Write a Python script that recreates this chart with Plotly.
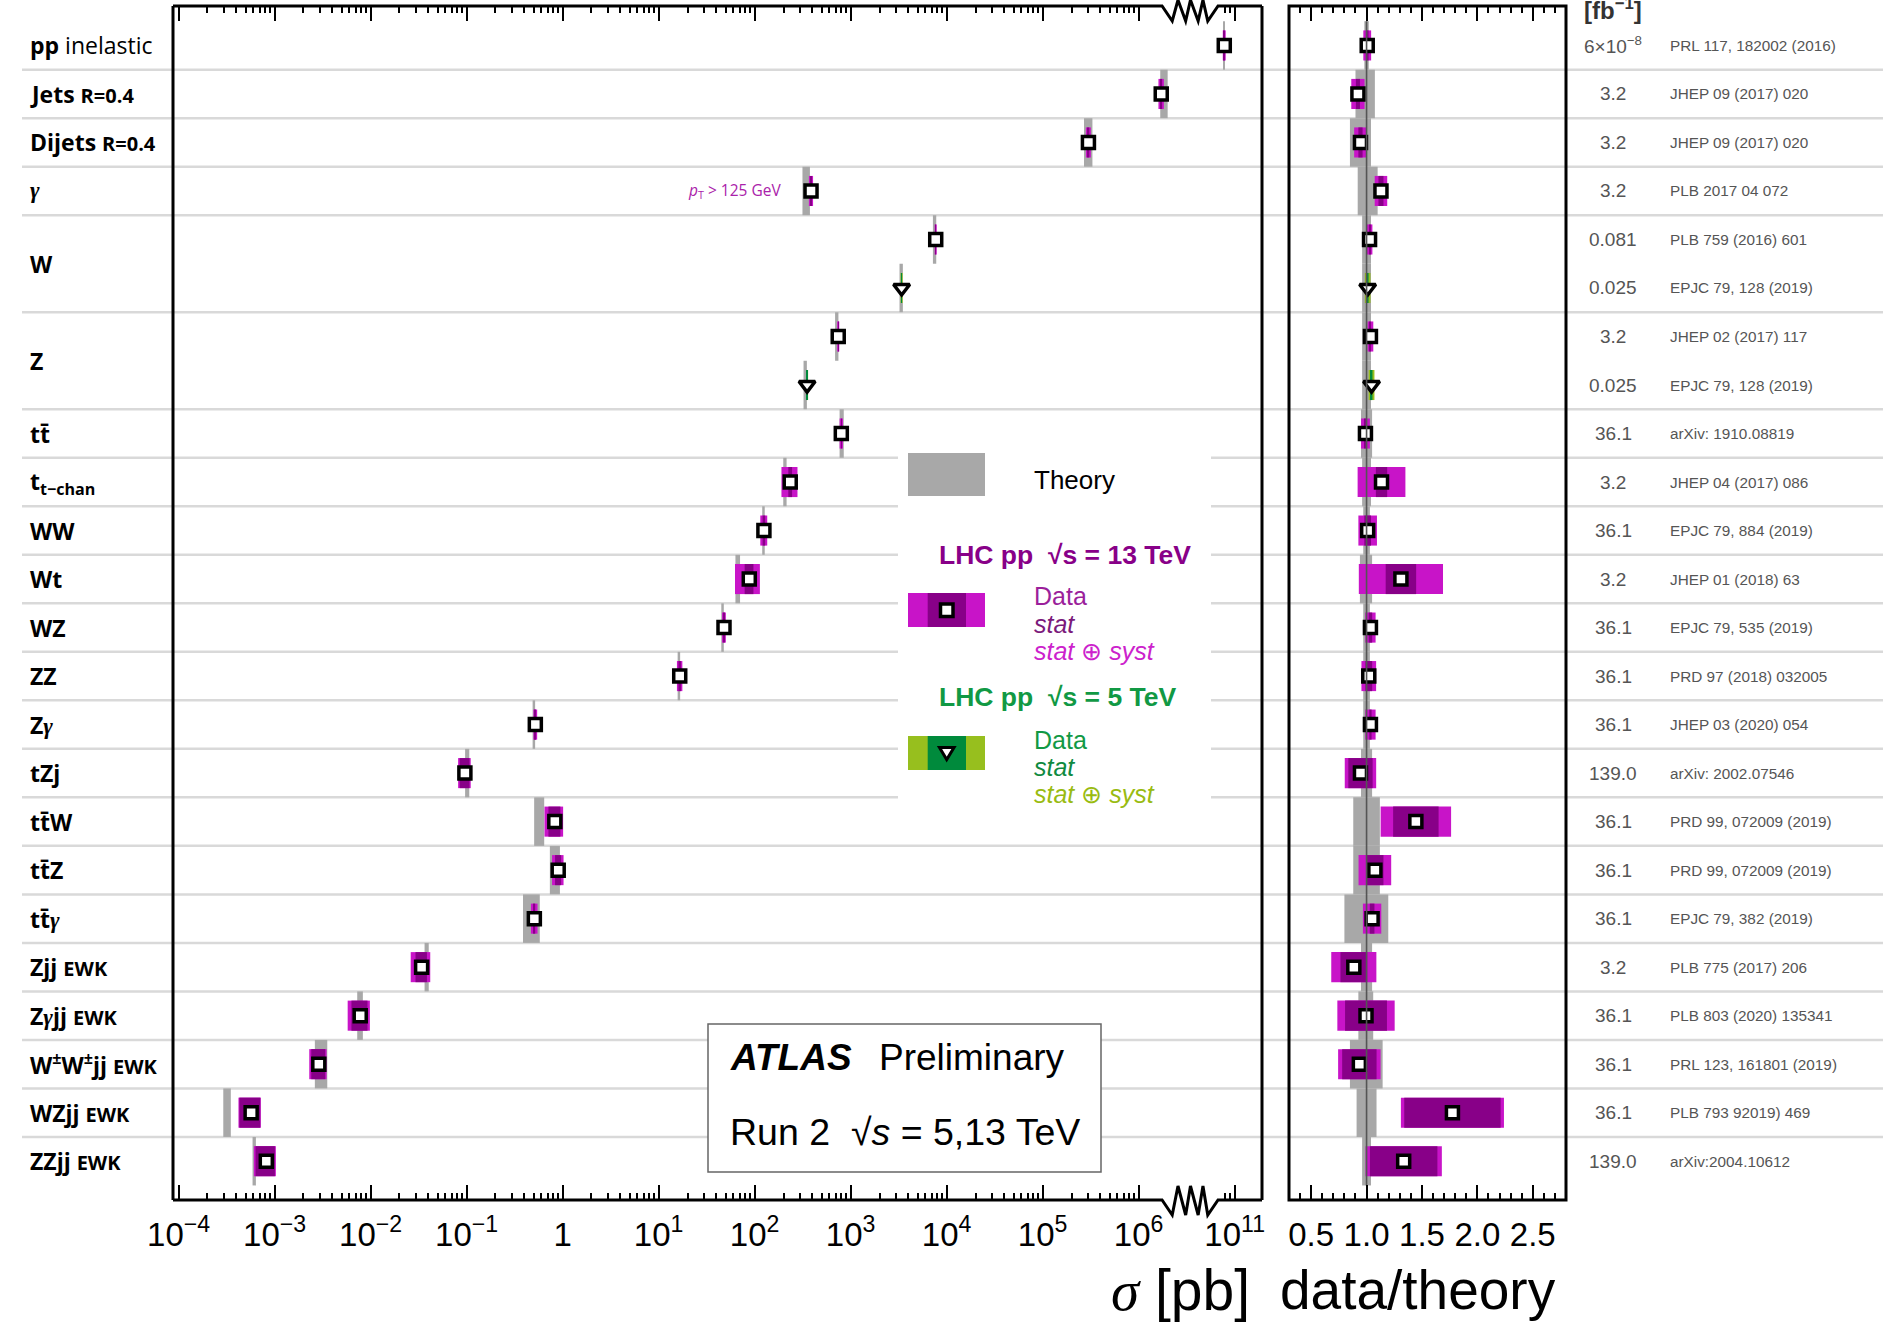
import numpy as np
import plotly.graph_objects as go

W_PX, H_PX = 1883, 1325

# ---------------------------------------------------------------- data
processes = ["pp", "Jets", "Dijets", "γ", "W", "Z", "tt̄", "t<sub>t−chan</sub>",
             "WW", "Wt", "WZ", "ZZ", "Zγ", "tZj", "tt̄W", "tt̄Z", "tt̄γ",
             "Zjj", "Zγjj", "W<sup>±</sup>W<sup>±</sup>jj", "WZjj", "ZZjj"]
qualifiers = ["inelastic", "R=0.4", "R=0.4", "", "", "", "", "", "", "", "", "", "",
              "", "", "", "", "EWK", "EWK", "EWK", "EWK", "EWK"]

# one entry per measurement (top to bottom)
meas_process = [0, 1, 2, 3, 4, 4, 5, 5, 6, 7, 8, 9, 10, 11, 12, 13, 14, 15, 16,
                17, 18, 19, 20, 21]
sqrt_s_tev = [13, 13, 13, 13, 13, 5, 13, 5, 13, 13, 13, 13, 13, 13, 13, 13, 13, 13,
              13, 13, 13, 13, 13, 13]
sigma_pb = [7.8e10, 1.72e6, 3.0e5, 387, 7.7e3, 3.4e3, 743, 352, 800, 235, 125, 88,
            48, 16.6, 0.52, 0.096, 0.83, 0.90, 0.508, 0.034, 0.0078, 0.00289,
            0.00057, 0.00082]
data_over_theory = [1.006, 0.922, 0.945, 1.13, 1.027, 1.01, 1.035, 1.045, 0.99, 1.135,
                    1.01, 1.31, 1.035, 1.02, 1.035, 0.945, 1.445, 1.075, 1.05, 0.885,
                    0.995, 0.935, 1.775, 1.335]
stat_rel = [0.012, 0.02, 0.02, 0.02, 0.004, 0.008, 0.004, 0.008, 0.005, 0.045, 0.03,
            0.105, 0.015, 0.03, 0.01, 0.116, 0.142, 0.072, 0.02, 0.136, 0.19, 0.166,
            0.245, 0.228]
total_rel = [0.035, 0.065, 0.06, 0.05, 0.025, 0.025, 0.025, 0.025, 0.04, 0.19, 0.083,
             0.29, 0.045, 0.065, 0.045, 0.15, 0.22, 0.137, 0.079, 0.23, 0.26, 0.205,
             0.262, 0.258]
theory_lo = [0.02, 0.10, 0.15, 0.08, 0.04, 0.04, 0.04, 0.04, 0.05, 0.04, 0.03, 0.06,
             0.03, 0.03, 0.03, 0.05, 0.12, 0.12, 0.20, 0.05, 0.074, 0.15, 0.09, 0.04]
theory_hi = [0.02, 0.075, 0.04, 0.10, 0.04, 0.04, 0.04, 0.04, 0.05, 0.04, 0.03, 0.05,
             0.03, 0.03, 0.03, 0.05, 0.12, 0.12, 0.196, 0.05, 0.06, 0.145, 0.09, 0.04]
lumi_fb = ["6×10<sup>−8</sup>", "3.2", "3.2", "3.2", "0.081", "0.025", "3.2", "0.025",
           "36.1", "3.2", "36.1", "3.2", "36.1", "36.1", "36.1", "139.0", "36.1",
           "36.1", "36.1", "3.2", "36.1", "36.1", "36.1", "139.0"]
references = ["PRL 117, 182002 (2016)", "JHEP 09 (2017) 020", "JHEP 09 (2017) 020",
              "PLB 2017 04 072", "PLB 759 (2016) 601", "EPJC 79, 128 (2019)",
              "JHEP 02 (2017) 117", "EPJC 79, 128 (2019)", "arXiv: 1910.08819",
              "JHEP 04 (2017) 086", "EPJC 79, 884 (2019)", "JHEP 01 (2018) 63",
              "EPJC 79, 535 (2019)", "PRD 97 (2018) 032005", "JHEP 03 (2020) 054",
              "arXiv: 2002.07546", "PRD 99, 072009 (2019)", "PRD 99, 072009 (2019)",
              "EPJC 79, 382 (2019)", "PLB 775 (2017) 206", "PLB 803 (2020) 135341",
              "PRL 123, 161801 (2019)", "PLB 793 92019) 469", "arXiv:2004.10612"]

main_tick_decades = [-4, -3, -2, -1, 0, 1, 2, 3, 4, 5, 6, 11]
ratio_ticks = [0.5, 1.0, 1.5, 2.0, 2.5]

# ---------------------------------------------------------------- style
C_TOT13, C_STAT13 = "#c814c8", "#880088"
C_TOT5, C_STAT5 = "#97bf1e", "#008a3c"
C_THEORY = "#a8a8a8"
C_ROWLINE = "#d9d9d9"
TICK_FONT = dict(family="Liberation Sans, Arial, sans-serif", size=33, color="black")
LABEL_FAMILY = "Open Sans, DejaVu Sans, sans-serif"
TEXT_FAMILY = "Liberation Sans, Arial, sans-serif"
SERIF = "Liberation Serif, DejaVu Serif, serif"

# axis break: decades 10^7 .. 10^10 are cut out of the sigma axis
CUT_DECADES = 4
MAIN_RANGE = [-4.058, 7.285]
RATIO_RANGE = [0.30, 2.80]


def to_axis(v):
    lg = np.log10(np.asarray(v, dtype=float))
    return np.where(lg > 8, lg - CUT_DECADES, lg)


def px(x):
    return x / W_PX


def py(y):
    return 1 - y / H_PX


n = len(sigma_pb)
rows = np.arange(n)
sig = np.array(sigma_pb)
rat = np.array(data_over_theory)
srel = np.array(stat_rel)
trel = np.array(total_rel)
thlo = np.array(theory_lo)
thhi = np.array(theory_hi)
theory_pb = sig / rat
is13 = np.array(sqrt_s_tev) == 13
Y_RANGE = [rows[-1] + 0.5 + 0.30, rows[0] - 0.5 - 0.313]

fig = go.Figure()


def add_boxes(lo, hi, width, colors, xaxis):
    fig.add_trace(go.Bar(
        orientation="h", y=rows, base=lo, x=hi - lo, width=width,
        marker=dict(color=colors, line=dict(width=0)),
        xaxis=xaxis, yaxis="y", showlegend=False, hoverinfo="skip"))


def add_markers(xv, xaxis):
    for mask, sym, size in [(is13, "square", 12), (~is13, "triangle-down", 14)]:
        fig.add_trace(go.Scatter(
            x=xv[mask], y=rows[mask], mode="markers", xaxis=xaxis, yaxis="y",
            marker=dict(symbol=sym, size=size, color="white",
                        line=dict(color="black", width=3.5)),
            showlegend=False, hoverinfo="skip"))


tot_col = np.where(is13, C_TOT13, C_TOT5)
stat_col = np.where(is13, C_STAT13, C_STAT5)

# --- cross-section panel
add_boxes(to_axis(theory_pb * (1 - thlo)), to_axis(theory_pb * (1 + thhi)), 1.0,
          [C_THEORY] * n, "x")
add_boxes(to_axis(sig * (1 - trel)), to_axis(sig * (1 + trel)), 0.62, tot_col, "x")
add_boxes(to_axis(sig * (1 - srel)), to_axis(sig * (1 + srel)), 0.62, stat_col, "x")
add_markers(to_axis(sig), "x")

# --- ratio panel
add_boxes(1 - thlo, 1 + thhi, 1.0, [C_THEORY] * n, "x2")
add_boxes(rat * (1 - trel), rat * (1 + trel), 0.62, tot_col, "x2")
add_boxes(rat * (1 - srel), rat * (1 + srel), 0.62, stat_col, "x2")
add_markers(rat, "x2")
fig.add_trace(go.Scatter(x=[1.0, 1.0], y=[rows[0] - 0.5, rows[-1] + 0.5], mode="lines",
                         line=dict(color="#555555", width=1.6), xaxis="x2", yaxis="y",
                         showlegend=False, hoverinfo="skip"))

# ---------------------------------------------------------------- axes
main_minor = [d + np.log10(k) for d in range(-4, 6) for k in range(2, 10)]
main_minor += list(to_axis([8e10, 9e10]))


def dec_label(d):
    if d == 0:
        return "1"
    return "10<sup>" + (str(d) if d > 0 else "−" + str(-d)) + "</sup>"


MAIN_DOM = [px(173), px(1262)]
RATIO_DOM = [px(1289), px(1566)]
Y_DOM = [py(1200), py(6)]

fig.update_layout(
    template="none",
    width=W_PX, height=H_PX,
    margin=dict(l=0, r=0, t=0, b=0, pad=0, autoexpand=False),
    paper_bgcolor="white", plot_bgcolor="rgba(0,0,0,0)", barmode="overlay",
    showlegend=False,
    xaxis=dict(domain=MAIN_DOM, range=MAIN_RANGE, anchor="y", automargin=False,
               tickmode="array",
               tickvals=list(to_axis([10.0 ** d for d in main_tick_decades])),
               ticktext=[dec_label(d) for d in main_tick_decades],
               ticks="inside", ticklen=15, tickwidth=2, tickcolor="black",
               mirror="ticks", showline=False, showgrid=False, zeroline=False,
               tickfont=TICK_FONT, ticklabelstandoff=12,
               minor=dict(tickmode="array", tickvals=main_minor, ticks="inside",
                          ticklen=7, tickwidth=1.5, tickcolor="black", showgrid=False)),
    xaxis2=dict(domain=RATIO_DOM, range=RATIO_RANGE, anchor="y", automargin=False,
                tickmode="array", tickvals=ratio_ticks,
                ticktext=[f"{t:.1f}" for t in ratio_ticks],
                ticks="inside", ticklen=15, tickwidth=2, tickcolor="black",
                mirror="ticks", showline=False, showgrid=False, zeroline=False,
                tickfont=TICK_FONT, ticklabelstandoff=12,
                minor=dict(dtick=0.1, tick0=0, ticks="inside", ticklen=7,
                           tickwidth=1.5, tickcolor="black", showgrid=False)),
    yaxis=dict(domain=Y_DOM, range=Y_RANGE, visible=False, fixedrange=True,
               automargin=False),
)

# ---------------------------------------------------------------- shapes
shapes = []
# row separators between processes
for i in range(n - 1):
    if meas_process[i] != meas_process[i + 1]:
        shapes.append(dict(type="line", xref="paper", yref="y", x0=px(22), x1=1.0,
                           y0=i + 0.5, y1=i + 0.5, layer="below",
                           line=dict(color=C_ROWLINE, width=2.5)))
# legend background
shapes.append(dict(type="rect", xref="paper", yref="paper", x0=px(898), x1=px(1211),
                   y0=py(815), y1=py(440), fillcolor="white", line=dict(width=0),
                   layer="below"))

# frame of sigma panel with zig-zag axis break
zig_x = [6.244, 6.35, 6.41, 6.49, 6.54, 6.62, 6.67, 6.72, 6.827]
zig_bot = [1200, 1215, 1186, 1215, 1186, 1215, 1186, 1215, 1200]
zig_top = [6, 21, 0, 21, 0, 21, 0, 21, 6]


def path_edge(ys, y_edge):
    pts = [(MAIN_RANGE[0], y_edge)] + list(zip(zig_x, ys)) + [(MAIN_RANGE[1], y_edge)]
    return "M " + " L ".join(f"{x:.4f},{py(y):.5f}" for x, y in pts)


for ys, ye in [(zig_bot, 1200), (zig_top, 6)]:
    shapes.append(dict(type="path", xref="x", yref="paper", path=path_edge(ys, ye),
                       line=dict(color="black", width=3), layer="above"))
for xe in MAIN_DOM:
    shapes.append(dict(type="line", xref="paper", yref="paper", x0=xe, x1=xe,
                       y0=Y_DOM[0], y1=Y_DOM[1], line=dict(color="black", width=3),
                       layer="above"))
shapes.append(dict(type="rect", xref="paper", yref="paper", x0=RATIO_DOM[0],
                   x1=RATIO_DOM[1], y0=Y_DOM[0], y1=Y_DOM[1],
                   line=dict(color="black", width=3), layer="above"))

# legend swatches
shapes.append(dict(type="rect", xref="paper", yref="paper", x0=px(908), x1=px(985),
                   y0=py(496), y1=py(453), fillcolor=C_THEORY, line=dict(width=0)))
for (y0, y1, ctot, cstat) in [(593, 627, C_TOT13, C_STAT13), (736, 770, C_TOT5, C_STAT5)]:
    shapes.append(dict(type="rect", xref="paper", yref="paper", x0=px(908), x1=px(985),
                       y0=py(y1), y1=py(y0), fillcolor=ctot, line=dict(width=0)))
    shapes.append(dict(type="rect", xref="paper", yref="paper", x0=px(927.7), x1=px(966),
                       y0=py(y1), y1=py(y0), fillcolor=cstat, line=dict(width=0)))
shapes.append(dict(type="rect", xref="paper", yref="paper", x0=px(940.5), x1=px(953),
                   y0=py(616.5), y1=py(604), fillcolor="white",
                   line=dict(color="black", width=3.5)))
shapes.append(dict(type="path", xref="paper", yref="paper",
                   path=f"M {px(939.5)},{py(747.5)} L {px(954)},{py(747.5)} "
                        f"L {px(946.7)},{py(759.5)} Z",
                   fillcolor="white", line=dict(color="black", width=3)))
# ATLAS box
shapes.append(dict(type="rect", xref="paper", yref="paper", x0=px(708), x1=px(1101),
                   y0=py(1172), y1=py(1024), fillcolor="white",
                   line=dict(color="#666666", width=1.5)))
fig.update_layout(shapes=shapes)

# ---------------------------------------------------------------- text
ann = []


def text(t, x, y, size, color="black", xanchor="left", yanchor="middle",
         family=TEXT_FAMILY, xref="paper", yref="paper"):
    ann.append(dict(text=t, x=x, y=y, xref=xref, yref=yref, xanchor=xanchor,
                    yanchor=yanchor, showarrow=False, borderpad=0,
                    font=dict(size=size, color=color, family=family)))


def fmt_process(name, qual):
    name = name.replace("γ", f"<span style='font-family:{SERIF}'><i>γ</i></span>")
    s = f"<b>{name}</b>"
    if qual == "inelastic":
        s += " " + qual
    elif qual:
        s += f" <b><span style='font-size:20px'>{qual}</span></b>"
    return s


for p, (name, qual) in enumerate(zip(processes, qualifiers)):
    r = [i for i in range(n) if meas_process[i] == p]
    text(fmt_process(name, qual), px(29), float(np.mean(r)), 23, family=LABEL_FAMILY,
         yref="y")

for i in range(n):
    text(lumi_fb[i], px(1613), i, 19, color="#555555", xanchor="center", yref="y")
    text(references[i], px(1669), i, 15.3, color="#555555", yref="y")

text("<b>[fb<sup>−1</sup>]</b>", px(1613), py(25), 24, color="#333333",
     xanchor="center", yanchor="bottom")

# annotation on the photon cross section
text("<i>p</i><sub>T</sub> > 125 GeV", px(782), 3, 15.5, color="#aa22aa",
     xanchor="right", yref="y", family=LABEL_FAMILY)

# legend text
text("Theory", px(1033), py(480), 26)
text("<b>LHC pp  √s = 13 TeV</b>", px(938), py(555), 26.5, color="#880088")
text("Data", px(1033), py(596), 25, color="#9b1f9b")
text("<i>stat</i>", px(1033), py(624), 25, color="#7b1a7b")
text("<i>stat</i> ⊕ <i>syst</i>", px(1033), py(651), 25, color="#cc22cc")
text("<b>LHC pp  √s = 5 TeV</b>", px(938), py(697), 26.5, color="#119944")
text("Data", px(1033), py(740), 25, color="#119944")
text("<i>stat</i>", px(1033), py(767), 25, color="#0f8a40")
text("<i>stat</i> ⊕ <i>syst</i>", px(1033), py(794), 25, color="#99bb11")

# experiment label
text("<b><i>ATLAS</i></b>", px(729), py(1057), 37)
text("Preliminary", px(878), py(1057), 37)
text("Run 2  √<i>s</i> = 5,13 TeV", px(729), py(1132), 37.5)

# axis titles
text(f"<span style='font-family:{SERIF}'><i>σ</i></span> [pb]",
     px(1251), py(1290), 57, xanchor="right")
text("data/theory", px(1418), py(1290), 55, xanchor="center")

fig.update_layout(annotations=ann)

fig.write_html("out.html")
